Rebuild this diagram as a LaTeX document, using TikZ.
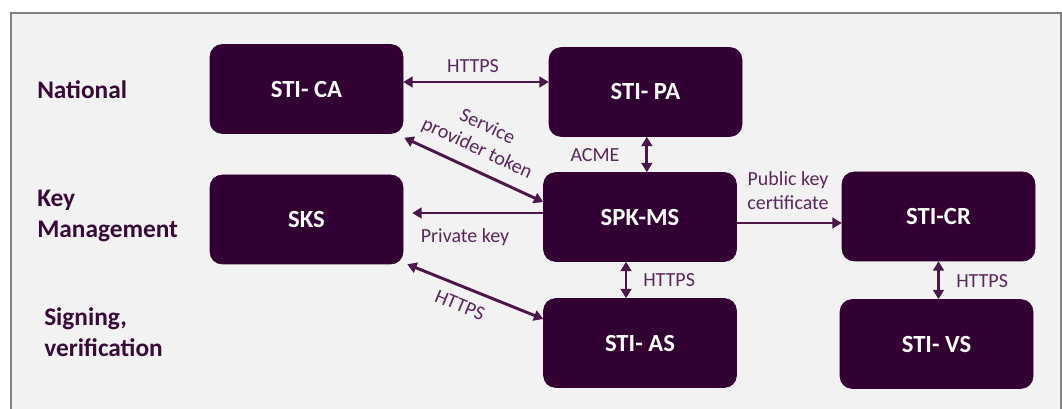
\documentclass[tikz,border=0pt]{standalone}
\usepackage{fontspec}
\setmainfont{Carlito}
\usetikzlibrary{arrows.meta,calc}
\definecolor{boxc}{RGB}{51,0,51}
\definecolor{linec}{RGB}{75,22,72}
\definecolor{labc}{RGB}{90,40,90}
\definecolor{rowc}{RGB}{55,10,55}
\definecolor{bgc}{RGB}{242,242,242}
\definecolor{framec}{RGB}{130,130,130}
\begin{document}
\begin{tikzpicture}[x=0.75pt,y=-0.75pt,
 box/.style={draw=boxc, fill=boxc, rounded corners=9pt, minimum width=144.75pt, minimum height=66.75pt, text=white, font=\bfseries\fontsize{18.5}{22}\selectfont, inner sep=0pt},
 rowlab/.style={anchor=west, align=left, text=rowc, font=\bfseries\fontsize{19}{23.5}\selectfont, inner sep=0pt},
 elab/.style={text=labc, font=\fontsize{15}{18}\selectfont, inner sep=0pt, align=center},
 conn/.style={draw=linec, line width=2.2pt, {Triangle[length=7pt,width=8pt]}-{Triangle[length=7pt,width=8pt]}},
 one/.style={draw=linec, line width=2.2pt, -{Triangle[length=7pt,width=8pt]}}]
\useasboundingbox (0,0) rectangle (1062,409);
\fill[white] (0,0) rectangle (1062,409);
\filldraw[fill=bgc, draw=framec, line width=1.5pt] (11,13) rectangle (1061,425);

\node[box] (ca) at (306.5,89) {STI- CA};
\node[box] (pa) at (645.5,92) {STI- PA};
\node[box] (sks) at (306.5,219.5) {SKS};
\node[box] (spk) at (640,217) {SPK-MS};
\node[box] (as) at (640,343) {STI- AS};
\node[box] (cr) at (938.5,216.5) {STI-CR};
\node[box] (vs) at (936.5,344) {STI- VS};

\draw[conn] ([yshift=5.25pt]ca.east) -- ([yshift=5.25pt]ca.east -| pa.west);
\draw[conn] ([xshift=1pt]pa.south) -- ([xshift=1pt]pa.south |- spk.north);
\draw[conn] ([xshift=0.75pt,yshift=-3pt]ca.south east) -- ([yshift=11.25pt]spk.west);
\draw[one] ([yshift=3pt]spk.west) -- ($([yshift=3pt]spk.west -| sks.east)+(9,0)$);
\draw[conn] ([xshift=3pt]sks.south east) -- ([yshift=18pt]as.west);
\draw[conn] ([xshift=-10.5pt]spk.south) -- ([xshift=-10.5pt]spk.south |- as.north);
\draw[one] ([yshift=-4.5pt]spk.east) -- ([yshift=-4.5pt]spk.east -| cr.west);
\draw[conn] (cr.south) -- (cr.south |- vs.north);

\node[elab] (l1) at (473,66) {HTTPS};
\node[elab] (l2) at (595,155) {ACME};
\node[elab, rotate=-25] (l3) at (482,138) {Service\\provider token};
\node[elab] (l4) at (465,237) {Private key};
\node[elab, rotate=-22.5] (l5) at (460,305) {HTTPS};
\node[elab, anchor=west] (l6) at (643,280) {HTTPS};
\node[elab] (l7) at (788,191) {Public key\\certificate};
\node[elab, anchor=west] (l8) at (956,281) {HTTPS};

\node[rowlab] (n1) at (37,90) {National};
\node[rowlab] (n2) at (37,216) {Key\\Management};
\node[rowlab] (n3) at (44,332) {Signing,\\verification};
\end{tikzpicture}
\end{document}
